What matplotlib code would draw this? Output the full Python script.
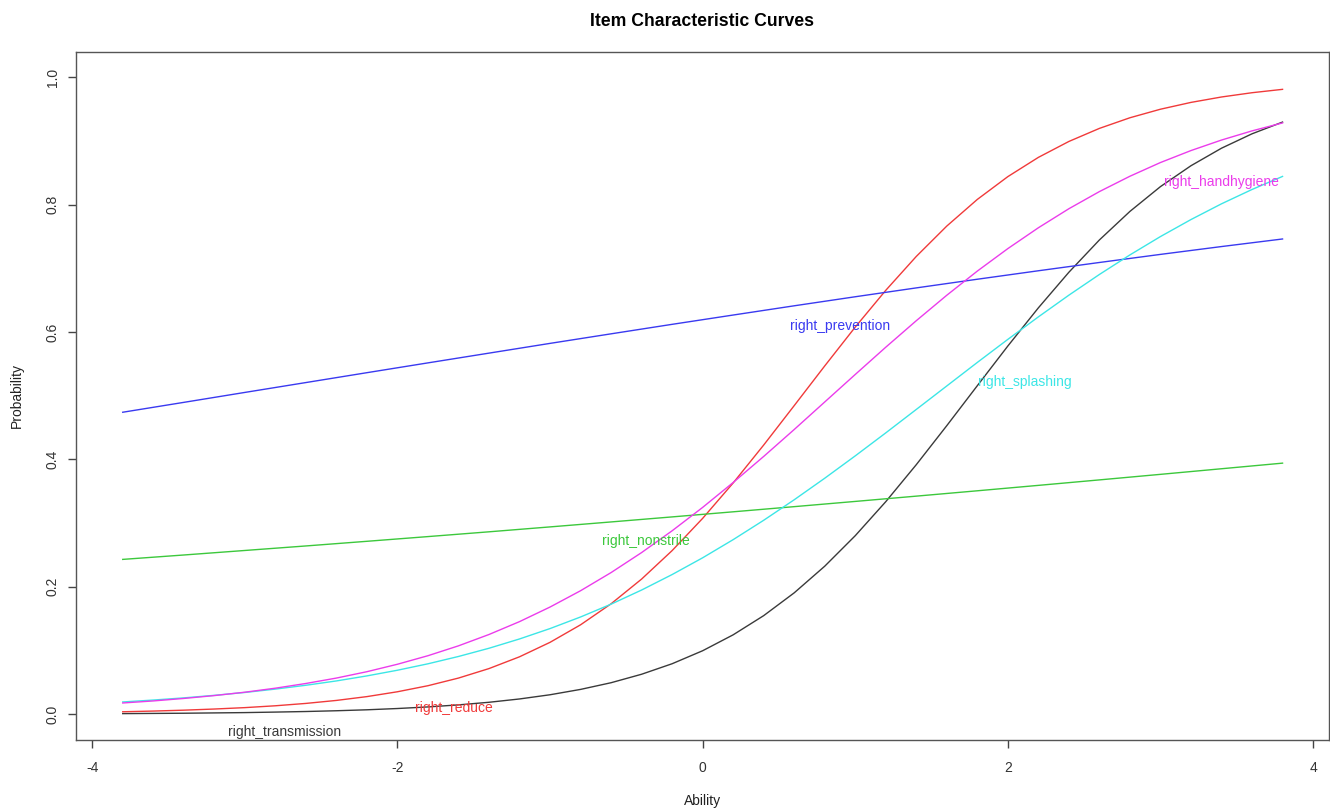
import matplotlib
matplotlib.use("Agg")
import matplotlib.pyplot as plt

plt.rcParams['font.family'] = ['Liberation Sans', 'DejaVu Sans']

# Ability grids and probabilities
theta = [-3.8, -3.6, -3.4, -3.2, -3.0, -2.8, -2.6, -2.4, -2.2, -2.0,
         -1.8, -1.6, -1.4, -1.2, -1.0, -0.8, -0.6, -0.4, -0.2, 0.0,
         0.2, 0.4, 0.6, 0.8, 1.0, 1.2, 1.4, 1.6, 1.8, 2.0,
         2.2, 2.4, 2.6, 2.8, 3.0, 3.2, 3.4, 3.6, 3.8]
theta_coarse = [-3.8, -3.4, -3.0, -2.6, -2.2, -1.8, -1.4, -1.0, -0.6, -0.2,
                0.2, 0.6, 1.0, 1.4, 1.8, 2.2, 2.6, 3.0, 3.4, 3.8]

right_transmission = [0.0009, 0.0012, 0.0015, 0.0020, 0.0025, 0.0033, 0.0042, 0.0054, 0.0069, 0.0089,
                      0.0114, 0.0146, 0.0187, 0.0239, 0.0305, 0.0389, 0.0494, 0.0627, 0.0792, 0.0996,
                      0.1246, 0.1547, 0.1905, 0.2323, 0.2802, 0.3336, 0.3917, 0.4530, 0.5157, 0.5780,
                      0.6379, 0.6938, 0.7445, 0.7893, 0.8282, 0.8610, 0.8885, 0.9111, 0.9295]
right_reduce = [0.0038, 0.0049, 0.0063, 0.0081, 0.0103, 0.0132, 0.0169, 0.0216, 0.0276, 0.0352,
                0.0447, 0.0567, 0.0716, 0.0901, 0.1128, 0.1403, 0.1733, 0.2121, 0.2568, 0.3074,
                0.3630, 0.4225, 0.4844, 0.5467, 0.6077, 0.6654, 0.7186, 0.7663, 0.8081, 0.8439,
                0.8741, 0.8991, 0.9196, 0.9363, 0.9497, 0.9604, 0.9689, 0.9756, 0.9809]
right_splashing = [0.0192, 0.0222, 0.0256, 0.0296, 0.0341, 0.0394, 0.0454, 0.0522, 0.0601, 0.0690,
                   0.0791, 0.0906, 0.1035, 0.1181, 0.1344, 0.1526, 0.1727, 0.1949, 0.2192, 0.2455,
                   0.2740, 0.3044, 0.3366, 0.3704, 0.4055, 0.4416, 0.4784, 0.5153, 0.5522, 0.5884,
                   0.6237, 0.6578, 0.6903, 0.7210, 0.7498, 0.7765, 0.8012, 0.8237, 0.8442]
right_handhygiene = [0.0176, 0.0208, 0.0247, 0.0292, 0.0345, 0.0408, 0.0482, 0.0567, 0.0667, 0.0784,
                     0.0918, 0.1073, 0.1251, 0.1453, 0.1682, 0.1938, 0.2223, 0.2537, 0.2879, 0.3246,
                     0.3637, 0.4046, 0.4469, 0.4901, 0.5333, 0.5761, 0.6177, 0.6577, 0.6956, 0.7309,
                     0.7636, 0.7935, 0.8204, 0.8445, 0.8660, 0.8848, 0.9013, 0.9157, 0.9282]
right_nonstrile = [0.2430, 0.2499, 0.2570, 0.2641, 0.2714, 0.2788, 0.2863, 0.2940, 0.3018, 0.3097,
                   0.3177, 0.3258, 0.3340, 0.3423, 0.3507, 0.3592, 0.3678, 0.3765, 0.3853, 0.3941]
right_prevention = [0.4740, 0.4895, 0.5051, 0.5206, 0.5361, 0.5515, 0.5668, 0.5821, 0.5971, 0.6120,
                    0.6266, 0.6411, 0.6553, 0.6692, 0.6828, 0.6961, 0.7091, 0.7218, 0.7341, 0.7460]

items = ["right_transmission", "right_reduce", "right_nonstrile",
         "right_prevention", "right_splashing", "right_handhygiene"]
series = [right_transmission, right_reduce, right_nonstrile,
          right_prevention, right_splashing, right_handhygiene]
grids = [theta, theta, theta_coarse, theta_coarse, theta, theta]
colors = ["#3a3a3a", "#f03a3a", "#3cc83c", "#3a3af0", "#3ce6e6", "#eb3ceb"]

# label anchor positions (data coords)
label_x = [-2.74, -1.63, -0.37, 0.90, 2.11, 3.40]
label_y = [-0.028, 0.009, 0.272, 0.610, 0.522, 0.835]

xticks = [-4, -2, 0, 2, 4]
yticks = [0.0, 0.2, 0.4, 0.6, 0.8, 1.0]
ytick_labels = ["0.0", "0.2", "0.4", "0.6", "0.8", "1.0"]

fig = plt.figure(figsize=(13.30, 8.09), dpi=100)
ax = fig.add_axes([0.0574, 0.0857, 0.9418, 0.8504])

for name, xs, vals, c in zip(items, grids, series, colors):
    ax.plot(xs, vals, color=c, lw=1.0)
for name, lx, ly, c in zip(items, label_x, label_y, colors):
    ax.text(lx, ly, name, color=c, fontsize=10, ha="center", va="center")

ax.set_xlim(-3.8 - 0.304, 3.8 + 0.304)
ax.set_ylim(-0.04, 1.04)
ax.set_xticks(xticks)
ax.set_xticklabels([str(t) for t in xticks])
ax.set_yticks(yticks)
ax.set_yticklabels(ytick_labels, rotation=90, va="center")
ax.tick_params(direction="out", length=6, width=1, colors="#444444",
               labelcolor="#333333", labelsize=10)
ax.tick_params(axis="x", pad=9)
ax.tick_params(axis="y", pad=6)
for s in ax.spines.values():
    s.set_color("#555555")
    s.set_linewidth(1.0)

ax.set_xlabel("Ability", fontsize=10, color="#222222", labelpad=14)
ax.set_ylabel("Probability", fontsize=10, color="#222222", labelpad=16)
fig.suptitle("Item Characteristic Curves", fontsize=12.7, fontweight="bold",
             y=0.984, x=0.528)

fig.savefig("out.png", dpi=100)
